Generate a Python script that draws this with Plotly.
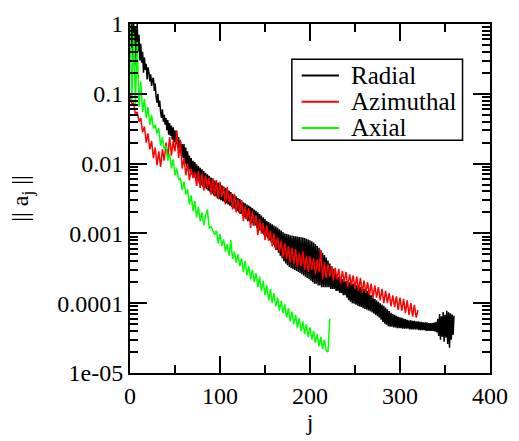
import plotly.graph_objects as go

# ---------------- data ----------------
radial_j = list(range(0, 361))
radial_vals = [
    0.9, 0.45, 1.0, 0.3, 1.0, 0.5, 0.9, 0.25, 1.0, 0.4, 0.7, 0.3, 0.52, 0.28, 0.4, 0.2, 0.33, 0.22, 0.27, 0.16,
    0.24, 0.2, 0.15, 0.19, 0.13, 0.16, 0.17, 0.11, 0.14, 0.09, 0.075, 0.1, 0.065, 0.08, 0.055, 0.045, 0.06, 0.04, 0.05, 0.036,
    0.045, 0.03, 0.042, 0.026, 0.038, 0.025, 0.035, 0.022, 0.033, 0.02, 0.03, 0.019, 0.027, 0.017, 0.024, 0.015, 0.021, 0.013, 0.019, 0.012,
    0.019, 0.0098, 0.017, 0.009, 0.015, 0.0083, 0.013, 0.0076, 0.012, 0.007, 0.011, 0.0064, 0.0105, 0.006, 0.0098, 0.0056, 0.0092, 0.0052, 0.0087, 0.0049,
    0.0083, 0.0047, 0.0078, 0.0045, 0.0074, 0.0043, 0.007, 0.0041, 0.0067, 0.0039, 0.0063, 0.0037, 0.006, 0.0035, 0.0057, 0.0034, 0.0055, 0.0032, 0.0053, 0.0031,
    0.0051, 0.003, 0.0049, 0.0029, 0.0047, 0.0028, 0.0045, 0.0027, 0.0043, 0.0026, 0.0041, 0.0025, 0.0039, 0.0024, 0.0037, 0.0023, 0.0035, 0.0022, 0.0034, 0.0021,
    0.0032, 0.002, 0.0031, 0.0019, 0.0029, 0.0018, 0.0028, 0.0017, 0.0027, 0.0016, 0.0026, 0.0015, 0.0025, 0.0015, 0.0024, 0.0014, 0.0023, 0.0013, 0.0022, 0.0013,
    0.0021, 0.0012, 0.002, 0.0011, 0.0019, 0.0011, 0.0018, 0.001, 0.0017, 0.00095, 0.0016, 0.0009, 0.0015, 0.00085, 0.00145, 0.0008, 0.0014, 0.00074, 0.00135, 0.00068,
    0.0013, 0.00063, 0.00125, 0.00058, 0.0012, 0.00053, 0.00115, 0.00048, 0.0011, 0.00044, 0.00105, 0.0004, 0.001, 0.00037, 0.00098, 0.00035, 0.00096, 0.00033, 0.00094, 0.00032,
    0.00093, 0.00031, 0.00092, 0.0003, 0.00091, 0.00029, 0.0009, 0.00028, 0.00089, 0.00027, 0.00088, 0.00026, 0.00087, 0.00025, 0.00086, 0.00024, 0.00084, 0.00023, 0.00082, 0.00022,
    0.0008, 0.00021, 0.00077, 0.0002, 0.00074, 0.00019, 0.0007, 0.00019, 0.00066, 0.00018, 0.00062, 0.00018, 0.00057, 0.00017, 0.00053, 0.00017, 0.00049, 0.00017, 0.00045, 0.00017,
    0.00041, 0.00017, 0.00037, 0.00016, 0.00034, 0.00016, 0.00031, 0.00016, 0.00028, 0.00015, 0.00026, 0.00015, 0.00024, 0.00014, 0.00023, 0.00014, 0.00022, 0.00013, 0.00021, 0.00013,
    0.00021, 0.00012, 0.0002, 0.00011, 0.0002, 0.000105, 0.0002, 0.0001, 0.00019, 9.8e-5, 0.00019, 9.5e-5, 0.00018, 9.2e-5, 0.00018, 9e-5, 0.00017, 8.8e-5, 0.00017, 8.5e-5,
    0.00016, 8.3e-5, 0.00016, 8.1e-5, 0.00015, 7.9e-5, 0.00014, 7.7e-5, 0.00013, 7.4e-5, 0.00012, 7.1e-5, 0.000115, 6.8e-5, 0.00011, 6.5e-5, 0.000105, 6.2e-5, 0.0001, 5.8e-5,
    9.6e-5, 5.4e-5, 9.2e-5, 5.1e-5, 8.7e-5, 4.9e-5, 8.2e-5, 4.7e-5, 7.7e-5, 4.6e-5, 7.3e-5, 4.6e-5, 7e-5, 4.5e-5, 6.8e-5, 4.5e-5, 6.6e-5, 4.4e-5, 6.4e-5, 4.4e-5,
    6.3e-5, 4.4e-5, 6.2e-5, 4.3e-5, 6e-5, 4.3e-5, 5.9e-5, 4.3e-5, 5.8e-5, 4.3e-5, 5.7e-5, 4.2e-5, 5.7e-5, 4.2e-5, 5.6e-5, 4.2e-5, 5.6e-5, 4.2e-5, 5.5e-5, 4.2e-5,
    5.5e-5, 4.1e-5, 5.4e-5, 4.1e-5, 5.4e-5, 4.1e-5, 5.3e-5, 4.1e-5, 5.3e-5, 4.0e-5, 5.3e-5, 4.0e-5, 5.2e-5, 4.0e-5, 5.2e-5, 4.0e-5, 5.2e-5, 4.0e-5, 5.3e-5, 3.9e-5,
    5.4e-5, 3.8e-5, 6.0e-5, 3.4e-5, 7.0e-5, 3.0e-5, 6.5e-5, 3.3e-5, 7.5e-5, 2.8e-5, 6.8e-5, 3.2e-5, 7.8e-5, 2.6e-5, 7.4e-5, 2.3e-5, 7.2e-5, 3.0e-5, 6.9e-5, 3.5e-5, 6.6e-5,
]

azimuthal_j = list(range(0, 321, 2))
azimuthal_vals = [
    0.1, 0.07, 0.075, 0.05, 0.055, 0.04, 0.045, 0.028, 0.034, 0.02, 0.027, 0.016, 0.021, 0.012, 0.017, 0.0095, 0.015, 0.009, 0.016, 0.011,
    0.02, 0.012, 0.024, 0.013, 0.021, 0.015, 0.03, 0.012, 0.022, 0.0085, 0.012, 0.0068, 0.01, 0.0058, 0.0085, 0.0062, 0.0075, 0.0048, 0.0078, 0.0045,
    0.0072, 0.0041, 0.0068, 0.0045, 0.0063, 0.0036, 0.0062, 0.0034, 0.0058, 0.0031, 0.0055, 0.0033, 0.0047, 0.0026, 0.0046, 0.0028, 0.0038, 0.0022, 0.0037, 0.002,
    0.0031, 0.0019, 0.003, 0.0015, 0.0025, 0.0016, 0.0023, 0.0012, 0.0021, 0.0013, 0.0018, 0.00095, 0.0016, 0.001, 0.0014, 0.0008, 0.0013, 0.00078, 0.0011, 0.00065,
    0.001, 0.00058, 0.00088, 0.00055, 0.00078, 0.00046, 0.00072, 0.00043, 0.00066, 0.00038, 0.00062, 0.00037, 0.0006, 0.00033, 0.00052, 0.00034, 0.00056, 0.0003, 0.00048, 0.00028,
    0.00047, 0.0003, 0.00044, 0.00026, 0.00042, 0.00028, 0.00058, 0.00022, 0.00039, 0.00023, 0.00036, 0.00024, 0.00034, 0.00021, 0.00032, 0.00022, 0.00031, 0.00019, 0.00029, 0.0002,
    0.00028, 0.00017, 0.00026, 0.00018, 0.00025, 0.00016, 0.00024, 0.00015, 0.00023, 0.00014, 0.00021, 0.00014, 0.0002, 0.00013, 0.00019, 0.00012, 0.00018, 0.00012, 0.00017, 0.00011,
    0.00016, 0.0001, 0.00015, 0.0001, 0.00014, 9e-5, 0.00013, 8.8e-5, 0.000125, 8e-5, 0.00012, 7.8e-5, 0.000115, 7.2e-5, 0.00011, 6.8e-5, 0.0001, 6.4e-5, 9.5e-5, 6.2e-5,
    8e-5,
]

axial_j = list(range(0, 223, 2))
axial_vals = [
    1.0, 0.08, 0.75, 0.07, 0.55, 0.065, 0.15, 0.055, 0.085, 0.045, 0.065, 0.036, 0.05, 0.032, 0.036, 0.027, 0.032, 0.018, 0.024, 0.016,
    0.018, 0.011, 0.014, 0.0085, 0.0115, 0.0068, 0.0085, 0.006, 0.0062, 0.0042, 0.0055, 0.0036, 0.0043, 0.0026, 0.0035, 0.0021, 0.0029, 0.0017, 0.0024, 0.0015,
    0.002, 0.0013, 0.0018, 0.0022, 0.0012, 0.00125, 0.0011, 0.00095, 0.0011, 0.00072, 0.00098, 0.00066, 0.00082, 0.00055, 0.0007, 0.00048, 0.0008, 0.00043, 0.00055, 0.00038,
    0.0005, 0.00034, 0.00044, 0.00028, 0.0004, 0.00025, 0.00034, 0.00022, 0.0003, 0.0002, 0.00027, 0.00017, 0.00024, 0.00015, 0.00021, 0.00013, 0.00018, 0.00011, 0.00016, 0.0001,
    0.00014, 9e-5, 0.00012, 7.8e-5, 0.000108, 7.2e-5, 9.6e-5, 6.2e-5, 8.5e-5, 5.5e-5, 7.6e-5, 5e-5, 6.8e-5, 4.4e-5, 6.1e-5, 4e-5, 5.5e-5, 3.6e-5, 5e-5, 3.3e-5,
    4.5e-5, 3e-5, 4e-5, 2.7e-5, 3.6e-5, 2.4e-5, 3.3e-5, 2.2e-5, 3e-5, 2.1e-5, 2.0e-5, 6e-5,
]

series_names = ["Radial", "Azimuthal", "Axial"]
series_colors = ["#000000", "#ff0000", "#00ff00"]

y_tickvals = [1, 0.1, 0.01, 0.001, 0.0001, 1e-05]
y_ticktext = ["1", "0.1", "0.01", "0.001", "0.0001", "1e-05"]
x_tickvals = [0, 100, 200, 300, 400]

# ---------------- figure ----------------
FONT = "Liberation Serif"
W, H = 519, 441
ML, MR, MT, MB = 130, 22, 11, 64
PW, PH = W - ML - MR, H - MT - MB


def px2paper(px, py):
    return (px - ML) / PW, (H - MB - py) / PH


fig = go.Figure()
for name, xs, ys, col in zip(series_names,
                             [radial_j, azimuthal_j, axial_j],
                             [radial_vals, azimuthal_vals, axial_vals],
                             series_colors):
    fig.add_trace(go.Scatter(x=xs, y=ys, mode="lines", name=name, showlegend=False,
                             line=dict(color=col, width=1.5, simplify=False)))

axis_common = dict(showline=True, linecolor="black", linewidth=2, mirror="ticks",
                   ticks="inside", tickcolor="black", tickwidth=2, ticklen=17,
                   showgrid=False, zeroline=False,
                   tickfont=dict(family=FONT, size=24, color="black"))

fig.update_xaxes(range=[0, 400], tickvals=x_tickvals,
                 minor=dict(ticks="inside", ticklen=8, tickwidth=2, tickcolor="black", dtick=50, tick0=0),
                 title=dict(text="j", font=dict(family=FONT, size=24, color="black"), standoff=4),
                 **axis_common)
fig.update_yaxes(type="log", range=[-5, 0], tickvals=y_tickvals, ticktext=y_ticktext,
                 minor=dict(ticks="inside", ticklen=8, tickwidth=2, tickcolor="black", dtick="D1"),
                 title=dict(text="|| a<sub>j</sub> ||", font=dict(family=FONT, size=24, color="black"), standoff=22),
                 **axis_common)

# legend box drawn by hand (xmgrace style)
bx0, by0 = px2paper(295, 48)
bx1, by1 = px2paper(469, 133)
shapes = [dict(type="rect", xref="paper", yref="paper", x0=bx0, y0=by1, x1=bx1, y1=by0,
               line=dict(color="black", width=1.5), fillcolor="white", layer="above")]
annotations = []
for i, (name, col) in enumerate(zip(series_names, series_colors)):
    ypix = 65 + 27.5 * i
    lx0, ly = px2paper(305, ypix)
    lx1, _ = px2paper(343, ypix)
    tx, _ = px2paper(353, ypix)
    shapes.append(dict(type="line", xref="paper", yref="paper", x0=lx0, x1=lx1, y0=ly, y1=ly,
                       line=dict(color=col, width=2), layer="above"))
    annotations.append(dict(xref="paper", yref="paper", x=tx, y=ly, text=name, showarrow=False,
                            xanchor="left", yanchor="middle",
                            font=dict(family=FONT, size=25, color="black")))

fig.update_layout(
    width=W, height=H,
    margin=dict(l=ML, r=MR, t=MT, b=MB),
    paper_bgcolor="white", plot_bgcolor="white",
    showlegend=False,
    shapes=shapes, annotations=annotations,
)

fig.write_html("out.html")
